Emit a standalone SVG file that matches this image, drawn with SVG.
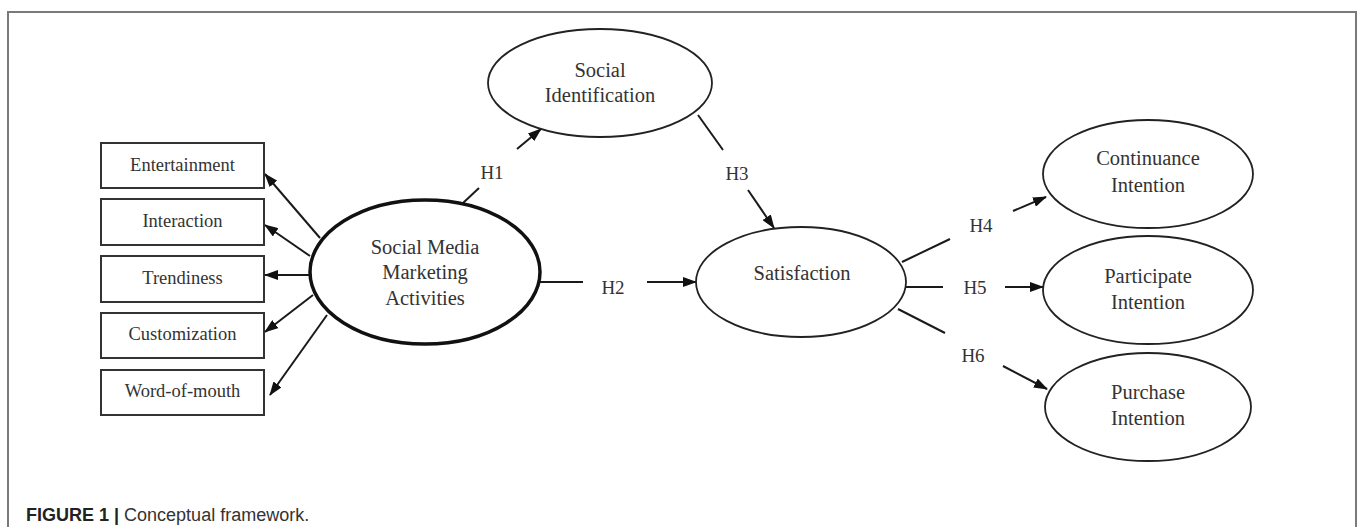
<svg xmlns="http://www.w3.org/2000/svg" width="1358" height="527" viewBox="0 0 1358 527">
<style>
.frame{fill:none;stroke:#7a7a7a;stroke-width:2}
.box{fill:#fff;stroke:#333;stroke-width:2}
.ell{fill:#fff;stroke:#222;stroke-width:1.8}
.ellb{fill:#fff;stroke:#111;stroke-width:3.5}
.t{font-family:"Liberation Serif","Times New Roman",serif;fill:#333;text-anchor:middle}
.tb{font-size:18.5px}
.te{font-size:20.5px}
.th{font-size:19px}
.ln{fill:none;stroke:#1a1a1a;stroke-width:2}
.arr{fill:none;stroke:#1a1a1a;stroke-width:2;marker-end:url(#ah)}
.cap{font-family:"Liberation Sans",Arial,sans-serif;font-size:18px;fill:#333}
</style>
<defs>
<marker id="ah" markerWidth="14" markerHeight="10" refX="13" refY="5" orient="auto" markerUnits="userSpaceOnUse">
<path d="M0,0 L14,5 L0,10 Z" fill="#111"/>
</marker>
</defs>
<path class="frame" d="M8,527 V12 H1356 V527"/>

<g id="connectors">
<line class="arr" x1="320" y1="238" x2="265" y2="174"/>
<line class="arr" x1="310" y1="256" x2="265" y2="225"/>
<line class="arr" x1="310" y1="275" x2="265" y2="275"/>
<line class="arr" x1="313" y1="295" x2="265" y2="332"/>
<line class="arr" x1="327" y1="315" x2="270" y2="395"/>
<line class="ln" x1="463" y1="203" x2="479" y2="188"/>
<line class="arr" x1="517" y1="149" x2="541" y2="129"/>
<line class="ln" x1="540" y1="282" x2="583" y2="282"/>
<line class="arr" x1="647" y1="282" x2="696" y2="282"/>
<line class="ln" x1="698" y1="115" x2="723" y2="150"/>
<line class="arr" x1="748" y1="190" x2="774" y2="228"/>
<line class="ln" x1="902" y1="262" x2="950" y2="239"/>
<line class="arr" x1="1013" y1="211" x2="1046" y2="197"/>
<line class="ln" x1="905" y1="287" x2="943" y2="287"/>
<line class="arr" x1="1005" y1="287" x2="1043" y2="287"/>
<line class="ln" x1="898" y1="309" x2="945" y2="333"/>
<line class="arr" x1="1003" y1="366" x2="1047" y2="389"/>
<text class="t th" x="492" y="179">H1</text>
<text class="t th" x="613" y="294">H2</text>
<text class="t th" x="737" y="180">H3</text>
<text class="t th" x="981" y="232">H4</text>
<text class="t th" x="975" y="294">H5</text>
<text class="t th" x="973" y="362">H6</text>
</g>

<g id="entertainment"><rect class="box" x="101" y="143" width="163" height="45"/><text class="t tb" x="182.5" y="171">Entertainment</text></g>
<g id="interaction"><rect class="box" x="101" y="199" width="163" height="46"/><text class="t tb" x="182.5" y="227">Interaction</text></g>
<g id="trendiness"><rect class="box" x="101" y="256" width="163" height="46"/><text class="t tb" x="182.5" y="284">Trendiness</text></g>
<g id="customization"><rect class="box" x="101" y="313" width="163" height="45"/><text class="t tb" x="182.5" y="340">Customization</text></g>
<g id="word-of-mouth"><rect class="box" x="101" y="370" width="163" height="45"/><text class="t tb" x="182.5" y="397">Word-of-mouth</text></g>

<g id="smma"><ellipse class="ellb" cx="425" cy="272" rx="115" ry="72"/>
<text class="t te" x="425" y="254">Social Media</text>
<text class="t te" x="425" y="279">Marketing</text>
<text class="t te" x="425" y="305">Activities</text></g>

<g id="social-identification"><ellipse class="ell" cx="600" cy="83" rx="112" ry="54"/>
<text class="t te" x="600" y="77">Social</text>
<text class="t te" x="600" y="102">Identification</text></g>

<g id="satisfaction"><ellipse class="ell" cx="801" cy="282" rx="105" ry="55"/>
<text class="t te" x="802" y="280">Satisfaction</text></g>

<g id="continuance"><ellipse class="ell" cx="1148" cy="174" rx="105" ry="54"/>
<text class="t te" x="1148" y="165">Continuance</text>
<text class="t te" x="1148" y="192">Intention</text></g>

<g id="participate"><ellipse class="ell" cx="1148" cy="290" rx="105" ry="54"/>
<text class="t te" x="1148" y="283">Participate</text>
<text class="t te" x="1148" y="309">Intention</text></g>

<g id="purchase"><ellipse class="ell" cx="1148" cy="407" rx="103" ry="54"/>
<text class="t te" x="1148" y="399">Purchase</text>
<text class="t te" x="1148" y="425">Intention</text></g>

<text class="cap" x="26" y="521"><tspan font-weight="bold" fill="#222">FIGURE 1</tspan> <tspan font-weight="bold" fill="#222">|</tspan> Conceptual framework.</text>
</svg>
